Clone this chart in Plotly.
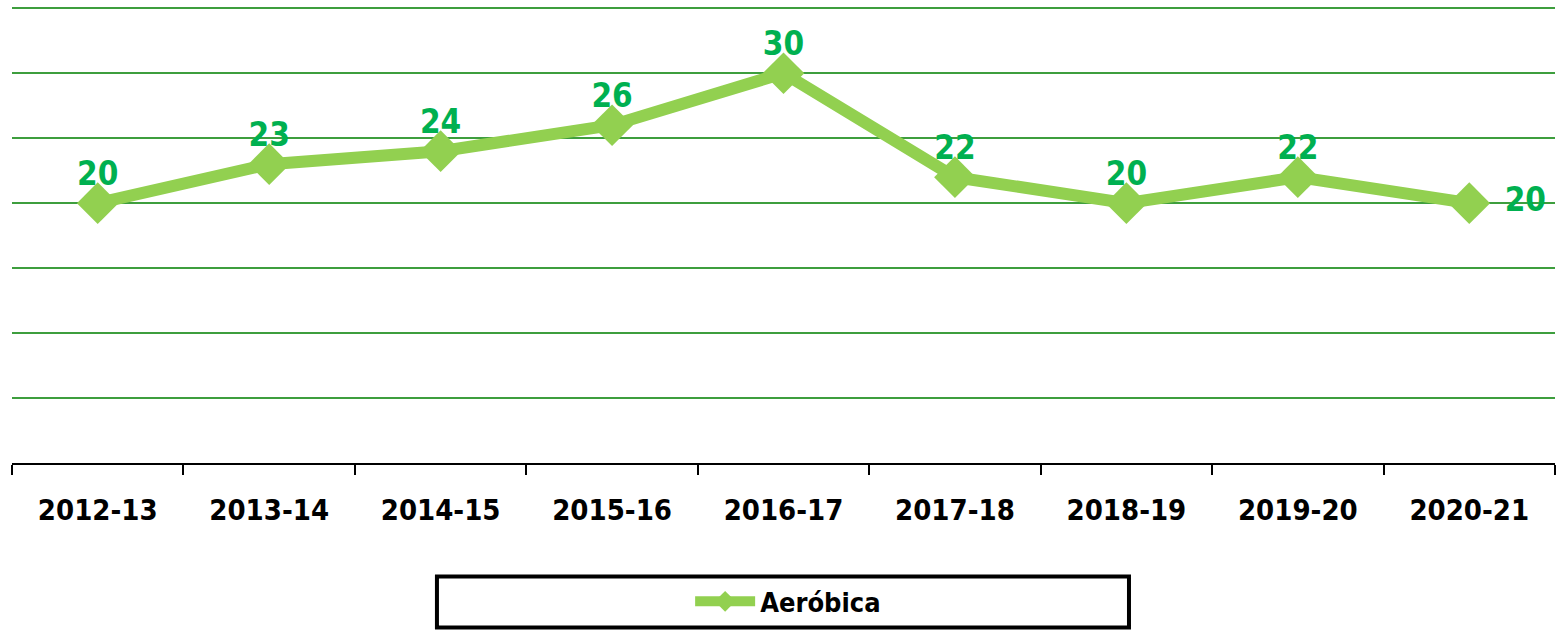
import plotly.graph_objects as go

categories = ["2012-13", "2013-14", "2014-15", "2015-16", "2016-17",
              "2017-18", "2018-19", "2019-20", "2020-21"]
values = [20, 23, 24, 26, 30, 22, 20, 22, 20]
series_name = "Aeróbica"

FONT = "DejaVu Sans Condensed, DejaVu Sans, sans-serif"
positions = ["top center"] * (len(values) - 1) + ["middle right"]
label_offsets = [15] * (len(values) - 1) + [55]

fig = go.Figure()
# data labels (drawn first so the markers sit on top of them)
fig.add_trace(go.Scatter(
    x=categories, y=values, showlegend=False, hoverinfo="skip",
    mode="markers+text",
    marker=dict(size=label_offsets, opacity=0),
    text=[str(v) for v in values],
    textposition=positions,
    textfont=dict(family=FONT, size=33, color="#00B050", weight="bold"),
    cliponaxis=False,
))
fig.add_trace(go.Scatter(
    x=categories, y=values, name=series_name,
    mode="lines+markers",
    line=dict(color="#92D050", width=12),
    marker=dict(symbol="diamond", size=32, color="#92D050"),
    cliponaxis=False,
))

# legend frame (paper coordinates)
fig.add_shape(type="rect", xref="paper", yref="paper",
              x0=0.2754, x1=0.7239, y0=-0.248, y1=-0.359,
              line=dict(color="black", width=4), fillcolor="rgba(0,0,0,0)")

fig.update_layout(
    width=1562, height=631,
    margin=dict(l=12, r=7, t=5, b=168, autoexpand=False),
    paper_bgcolor="white", plot_bgcolor="white",
    showlegend=True,
    legend=dict(orientation="h", x=0.503, xanchor="center", y=-0.303, yanchor="middle",
                font=dict(family=FONT, size=27, color="black", weight="bold"),
                bgcolor="rgba(0,0,0,0)", borderwidth=0, itemwidth=60),
    xaxis=dict(
        type="category", tickson="boundaries", ticks="outside", ticklen=10,
        tickcolor="black", tickwidth=1.5, ticklabelstandoff=20,
        showline=True, linecolor="black", linewidth=2, showgrid=False,
        tickfont=dict(family=FONT, size=29, color="black", weight="bold"),
        range=[-0.5, 8.5],
    ),
    yaxis=dict(
        range=[0, 35.25], tickvals=[5, 10, 15, 20, 25, 30, 35], showticklabels=False, ticks="",
        showgrid=True, gridcolor="#3E9E3E", gridwidth=1.5,
        zeroline=False, showline=False,
    ),
)

fig.write_html("out.html", config={"displayModeBar": False},
               post_script="document.body.style.margin='0';document.body.style.overflow='hidden';")
